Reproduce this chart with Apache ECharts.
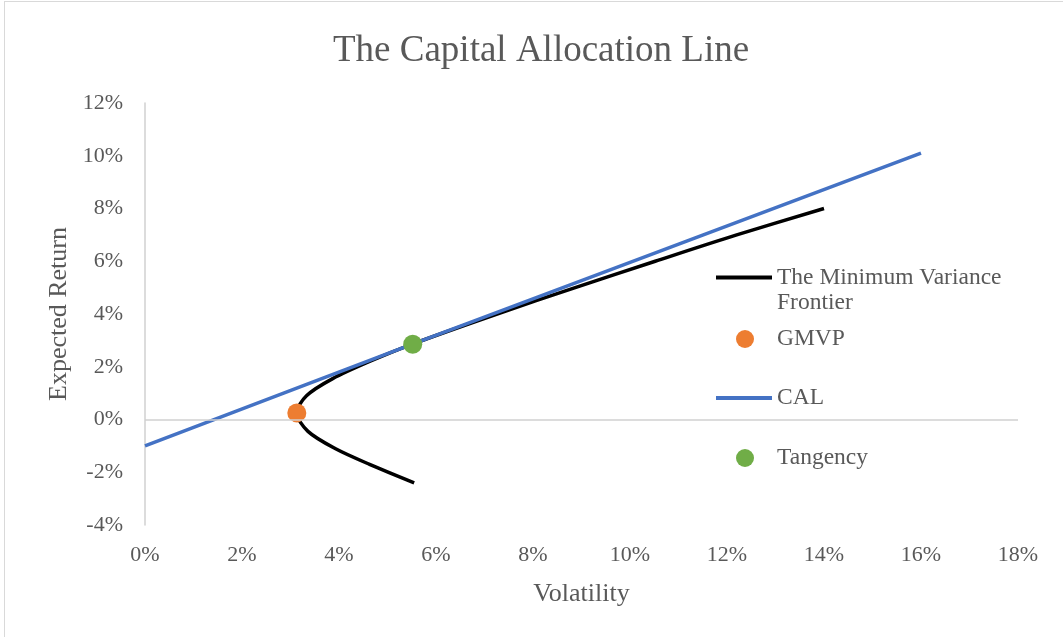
<!DOCTYPE html>
<html>
<head>
<meta charset="utf-8">
<script src="https://cdn.jsdelivr.net/npm/echarts@6/dist/echarts.min.js"></script>
<style>
    html, body { margin: 0; padding: 0; background: #fff; }
    #frame { position: absolute; left: 4px; top: 1px; width: 1070px; height: 650px; border: 1px solid #d9d9d9; }
    #box { position: absolute; left: 0; top: 0; width: 1063px; height: 637px; }
</style>
</head>
<body>
<div id="frame"></div>
<div id="box"></div>
<script>
// values in percent
var frontierVol = [5.55, 4.63, 3.92, 3.36, 3.13, 3.33, 3.87, 4.63, 5.5, 7.26, 8.87, 10.52, 12.2, 14.0];
var frontierRet = [-2.4, -1.7, -1.1, -0.45, 0.25, 0.9, 1.55, 2.2, 2.85, 4.0, 5.0, 6.0, 7.0, 8.0];
var calVol = [0, 5.5, 16];
var calRet = [-1.0, 2.85, 10.1];
var gmvp = [3.13, 0.25];
var tangency = [5.52, 2.85];
var xTicks = [0, 18, 2];   // min, max, step
var yTicks = [-4, 12, 2];

var font = 'Liberation Serif';
var grey = '#595959';

function pairs(xs, ys) {
    var list = [];
    for (let i = 0; i < xs.length; i++) {
        list.push([xs[i], ys[i]]);
    }
    return list;
}

var myChart = echarts.init(document.getElementById("box"));

var legendText = { fontFamily: font, fontSize: 23.5, color: grey };
// dot legends: push the label right so it lines up with the line legends
var dotText = Object.assign({ rich: { s: { width: 18 } } }, legendText);
function dotLabel(name) { return '{s|}' + name; }

var option = {
    backgroundColor: 'transparent',
    animation: false,
    title: {
        text: 'The Capital Allocation Line',
        left: 328,
        top: 28,
        textStyle: { fontFamily: font, fontSize: 37, fontWeight: 'normal', color: grey }
    },
    grid: { left: 145, right: 45, top: 103, bottom: 112 },
    legend: [{
        left: 716, top: 240, padding: 0, itemWidth: 56, itemHeight: 4, selectedMode: false,
        icon: 'rect',
        data: [{ name: 'The Minimum Variance Frontier' }],
        formatter: function () { return ' \nThe Minimum Variance\nFrontier'; },
        textStyle: Object.assign({ lineHeight: 25 }, legendText)
    }, {
        left: 736, top: 327, padding: 0, itemWidth: 18, itemHeight: 18, selectedMode: false,
        icon: 'circle', formatter: dotLabel,
        data: [{ name: 'GMVP' }], textStyle: dotText
    }, {
        left: 716, top: 386, padding: 0, itemWidth: 56, itemHeight: 4, selectedMode: false,
        icon: 'rect',
        data: [{ name: 'CAL' }], textStyle: legendText
    }, {
        left: 736, top: 446, padding: 0, itemWidth: 18, itemHeight: 18, selectedMode: false,
        icon: 'circle', formatter: dotLabel,
        data: [{ name: 'Tangency' }], textStyle: dotText
    }],
    xAxis: {
        type: 'value',
        min: xTicks[0], max: xTicks[1], interval: xTicks[2],
        name: 'Volatility',
        nameLocation: 'middle',
        nameGap: 56,
        nameTextStyle: { fontFamily: font, fontSize: 26, color: grey },
        axisLine: { show: false, onZero: false },
        axisTick: { show: false },
        splitLine: { show: false },
        axisLabel: { formatter: '{value}%', margin: 19, fontFamily: font, fontSize: 22, color: grey }
    },
    yAxis: {
        type: 'value',
        min: yTicks[0], max: yTicks[1], interval: yTicks[2],
        name: 'Expected Return',
        nameLocation: 'middle',
        nameGap: 73,
        nameTextStyle: { fontFamily: font, fontSize: 26, color: grey },
        axisLine: { show: true, onZero: false, lineStyle: { color: '#d0d0d0', width: 1.5 } },
        axisTick: { show: false },
        splitLine: { show: false },
        axisLabel: { formatter: '{value}%', margin: 22, fontFamily: font, fontSize: 22, color: grey }
    },
    series: [{
        name: 'The Minimum Variance Frontier',
        type: 'line',
        data: pairs(frontierVol, frontierRet),
        smooth: 0.3,
        showSymbol: false,
        symbol: 'none',
        color: '#000000',
        lineStyle: { width: 3.5, color: '#000000' },
        markLine: {
            silent: true,
            symbol: 'none',
            label: { show: false },
            lineStyle: { color: '#d0d0d0', width: 1.5, type: 'solid' },
            data: [{ yAxis: 0 }]
        },
        z: 2
    }, {
        name: 'CAL',
        type: 'line',
        data: pairs(calVol, calRet),
        showSymbol: false,
        symbol: 'none',
        color: '#4472C4',
        lineStyle: { width: 3.5, color: '#4472C4' },
        z: 3
    }, {
        name: 'GMVP',
        type: 'scatter',
        data: [gmvp],
        symbolSize: 19,
        itemStyle: { color: '#ED7D31', opacity: 1 },
        z: 4
    }, {
        name: 'Tangency',
        type: 'scatter',
        data: [tangency],
        symbolSize: 19,
        itemStyle: { color: '#70AD47', opacity: 1 },
        z: 4
    }]
};

myChart.setOption(option);
</script>
</body>
</html>
